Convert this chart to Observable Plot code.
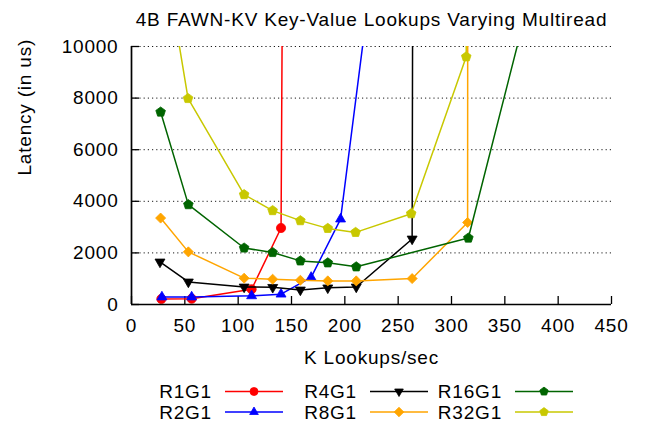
<!DOCTYPE html>
<html><head><meta charset="utf-8">
<script src="https://cdn.jsdelivr.net/npm/d3@7"></script>
<script src="https://cdn.jsdelivr.net/npm/@observablehq/plot@0.6"></script>
<style>
body{margin:0;background:#fff;}
#chart svg{display:block}
#chart svg text{letter-spacing:0.8px}
</style>
</head><body><div id="chart"></div>
<script>
const title = "4B FAWN-KV Key-Value Lookups Varying Multiread";
const xLabel = "K Lookups/sec";
const yLabel = "Latency (in us)";
const xTicks = [0, 50, 100, 150, 200, 250, 300, 350, 400, 450];
const yTicks = [0, 2000, 4000, 6000, 8000, 10000];
const yGrid = [2000, 4000, 6000, 8000, 10000];

const seriesNames = ["R1G1", "R2G1", "R4G1", "R8G1", "R16G1", "R32G1"];
const seriesColors = ["#ff0000", "#0000ff", "#000000", "#ffa500", "#006400", "#c8c800"];

// last point of several series lies above the 10000 limit (clipped, as in the original)
const r1g1X = [28, 56.4, 112.6, 140.2, 142.5];
const r1g1Y = [215, 225, 590, 2965, 20000];
const r2g1X = [28.5, 56.4, 112.6, 140.2, 168.4, 196, 232];
const r2g1Y = [290, 290, 335, 400, 1050, 3310, 15000];
const r4g1X = [26.7, 53.3, 105.6, 132.4, 158.3, 184, 210.7, 263.1, 264];
const r4g1Y = [1650, 875, 680, 665, 565, 645, 680, 2540, 20000];
const r8g1X = [27.3, 53.3, 105.6, 132.3, 158.3, 184, 210.7, 263.1, 315.1, 315.3];
const r8g1Y = [3350, 2040, 1020, 980, 940, 915, 915, 1005, 3180, 20000];
const r16g1X = [27.3, 53.3, 105.6, 132.3, 158.3, 184, 210.7, 315.8, 380];
const r16g1Y = [7460, 3870, 2190, 2016, 1690, 1615, 1460, 2576, 13000];
const r32g1X = [27, 53, 105.6, 132.3, 158.3, 184, 210.1, 262.2, 313.8, 314];
const r32g1Y = [14500, 7985, 4260, 3640, 3250, 2950, 2795, 3520, 9600, 20000];

const seriesX = [r1g1X, r2g1X, r4g1X, r8g1X, r16g1X, r32g1X];
const seriesY = [r1g1Y, r2g1Y, r4g1Y, r8g1Y, r16g1Y, r32g1Y];

// custom marker shapes
function polySymbol(angles, scale) {
  return {
    draw(context, size) {
      const r = Math.sqrt(size / Math.PI) * scale;
      angles.forEach((a, i) => {
        const t = a * Math.PI / 180;
        const px = r * Math.cos(t), py = r * Math.sin(t);
        if (i === 0) context.moveTo(px, py); else context.lineTo(px, py);
      });
      context.closePath();
    }
  };
}
const triUp = polySymbol([-90, 30, 150], 1.25);
const triDown = polySymbol([90, 210, 330], 1.25);
const diamond = polySymbol([-90, 0, 90, 180], 1.2);
const pentagon = polySymbol([-90, -18, 54, 126, 198], 1.1);
const circleSym = {draw(context, size) { const r = Math.sqrt(size / Math.PI); context.moveTo(r, 0); context.arc(0, 0, r, 0, 2 * Math.PI); }};
const seriesSymbols = [circleSym, triUp, triDown, diamond, pentagon, pentagon];
const seriesR = [4.6, 4.6, 4.6, 4.2, 4.6, 4.6];

const rows = seriesNames.map((name, i) => seriesX[i].map((x, j) => ({series: name, x, y: seriesY[i][j]})));

const FONT = "'Liberation Sans', Arial, Helvetica, sans-serif";
const FS = 19;

const seriesMarks = rows.flatMap((d, i) => [
  Plot.line(d, {x: "x", y: "y", stroke: seriesColors[i], strokeWidth: 1.5, clip: true}),
  Plot.dot(d, {x: "x", y: "y", symbol: seriesSymbols[i], r: seriesR[i], fill: seriesColors[i], stroke: seriesColors[i], strokeWidth: 0.8, clip: true})
]);

const plot = Plot.plot({
  width: 646,
  height: 426,
  marginTop: 46,
  marginLeft: 131,
  marginRight: 35,
  marginBottom: 122,
  style: {fontFamily: FONT, fontSize: FS + "px", background: "#fff", color: "#000"},
  x: {domain: [0, 450]},
  y: {domain: [0, 10000]},
  marks: [
    Plot.gridY(yGrid, {stroke: "#000", strokeOpacity: 0.9, strokeWidth: 1, strokeDasharray: "1.2,3"}),
    Plot.tickX(xTicks, {x: d => d, insetTop: 250, stroke: "#000", strokeWidth: 1.3}),
    Plot.tickY(yTicks, {y: d => d, insetRight: 472, stroke: "#000", strokeWidth: 1.3}),
    Plot.axisX({ticks: xTicks, tickSize: 0, tickPadding: 14, fontSize: FS, label: null, tickFormat: d => String(d)}),
    Plot.axisY({ticks: yTicks, tickSize: 0, tickPadding: 13, fontSize: FS, label: null, tickFormat: d => String(d)}),
    ...seriesMarks,
    Plot.ruleX([0], {stroke: "#000", strokeWidth: 1.7}),
    Plot.ruleY([0], {stroke: "#000", strokeWidth: 1.7}),
    Plot.text([xLabel], {frameAnchor: "bottom", dy: 59, lineAnchor: "bottom", fontSize: FS}),
    Plot.text([yLabel], {frameAnchor: "left", dx: -107, rotate: -90, lineAnchor: "middle", fontSize: FS}),
    Plot.text([title], {frameAnchor: "top", dy: -21, lineAnchor: "bottom", fontSize: FS})
  ]
});

document.getElementById("chart").appendChild(plot);

// legend (3 columns x 2 rows) drawn below the plot area
const lg = d3.select(plot).append("g").attr("font-family", FONT).attr("font-size", FS);
seriesNames.forEach((name, i) => {
  const col = Math.floor(i / 2), row = i % 2;
  const tx = 212 + col * 145, ty = 391.5 + row * 20.5;
  lg.append("text").attr("x", tx).attr("y", ty).attr("dy", "0.35em").attr("text-anchor", "end").attr("fill", "#000").text(name);
  lg.append("line").attr("x1", tx + 13).attr("x2", tx + 71).attr("y1", ty).attr("y2", ty)
    .attr("stroke", seriesColors[i]).attr("stroke-width", 1.5);
  lg.append("path").attr("transform", `translate(${tx + 42},${ty})`)
    .attr("d", d3.symbol(seriesSymbols[i], Math.PI * 4 * 4)())
    .attr("fill", seriesColors[i]).attr("stroke", seriesColors[i]).attr("stroke-width", 0.8);
});
</script>
</body></html>
